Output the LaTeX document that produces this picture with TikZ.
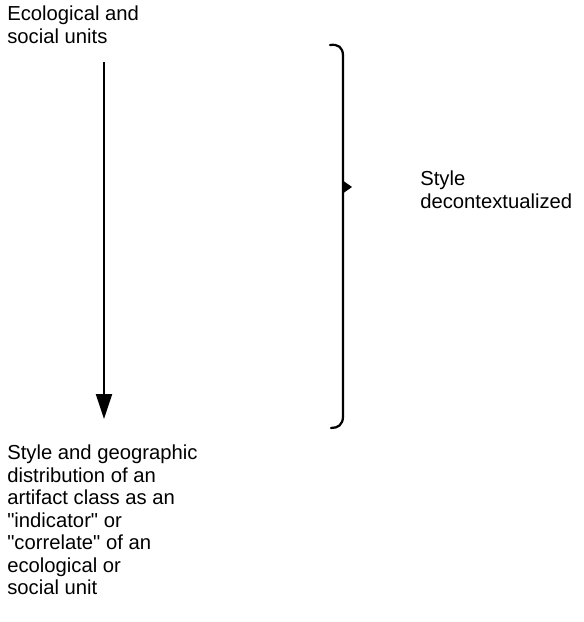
\documentclass[tikz,border=0pt]{standalone}
\usepackage{fontspec}
\setmainfont{Liberation Sans}[Ligatures=TeXOff]
\usepackage{tikz}
\usetikzlibrary{arrows.meta,positioning}

\begin{document}
\begin{tikzpicture}[x=0.025cm, y=-0.025cm,
  label/.style={anchor=north west, align=left, inner sep=0pt,
    font=\fontsize{14.4}{16}\selectfont},
  arr/.style={line width=1.3pt, -{Triangle[length=0.62cm,width=0.4cm]}},
  brace/.style={line width=1.6pt, line cap=round}]

\useasboundingbox (0,0) rectangle (583,622);

% unita' e stile
\node[label] (eco)   at (7,6)    {Ecological and\\social units};
\node[label] (dist)  at (7,445)  {Style and geographic\\distribution of an\\artifact class as an\\"indicator" or\\"correlate" of an\\ecological or\\social unit};
\node[label] (decon) at (420,171) {Style\\decontextualized};

\coordinate (from) at (104,62);
\coordinate (to)   at (104,419);
\draw[arr] (from) -- (to);

% parentesi graffa
\draw[brace] (330,45) .. controls (338,44) and (343,47) .. (343,56) -- (343,416)
  .. controls (343,425) and (338,428) .. (331,428);
\fill (342,180) -- (352,187) -- (342,194) -- cycle;

\end{tikzpicture}
\end{document}
